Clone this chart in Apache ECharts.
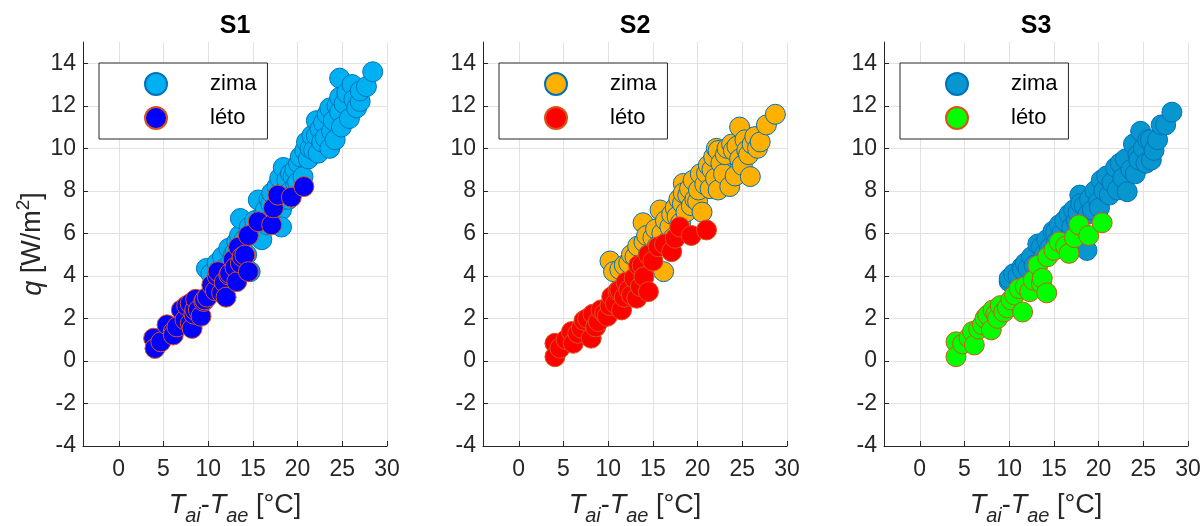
<!DOCTYPE html>
<html>
<head>
<meta charset="utf-8">
<script src="https://cdn.jsdelivr.net/npm/echarts@6/dist/echarts.min.js"></script>
<style>
  html, body { margin: 0; padding: 0; background: #ffffff; }
  #chart { width: 1203px; height: 526px; }
</style>
</head>
<body>
<div id="chart"></div>
<script>
// Panel titles and season names
const panelTitles = ['S1', 'S2', 'S3'];
const seasonNames = ['zima', 'léto'];

// Axis ranges
const xRange = [-4, 30];
const yRange = [-4, 15];
const yTickStep = 2;

// Measured points [Tai - Tae (°C), q (W/m2)]
const s1Zima = [
  [9.8,4.35],[10.3,4.1],[11.0,4.6],[11.3,4.3],[11.6,4.9],[12.0,4.4],[12.3,5.3],[12.5,4.6],[12.8,5.0],[13.0,5.1],
  [13.2,5.6],[13.5,5.9],[13.6,6.7],[14.0,5.7],[14.3,5.0],[14.6,6.3],[14.7,4.2],[15.0,6.1],[15.2,6.6],[15.4,6.0],
  [15.6,7.57],[15.9,6.5],[16.0,5.7],[16.2,6.9],[16.4,7.1],[16.6,6.4],[16.8,7.6],[17.0,7.4],[17.1,7.9],[17.3,6.8],
  [17.6,7.3],[17.7,8.2],[18.0,8.6],[18.2,7.1],[18.2,6.3],[18.4,9.1],[18.5,7.6],[18.6,8.0],[18.8,8.5],[19.0,7.6],
  [19.0,7.9],[19.2,8.8],[19.5,8.67],[19.7,9.0],[19.8,8.3],[20.0,8.4],[20.1,9.3],[20.3,9.6],[20.6,8.67],[20.8,9.9],
  [21.0,10.3],[21.2,9.5],[21.4,10.0],[21.6,10.6],[21.8,9.9],[22.1,11.3],[22.1,10.6],[22.3,9.77],[22.5,10.9],[22.7,10.3],
  [22.9,11.2],[23.1,10.5],[23.3,11.6],[23.6,11.9],[23.6,10.0],[23.8,10.8],[24.0,11.3],[24.2,10.4],[24.4,12.0],[24.7,12.4],
  [24.7,11.7],[24.7,13.3],[24.9,11.0],[25.2,12.1],[25.5,12.6],[25.8,11.4],[26.1,13.0],[26.3,12.3],[26.6,11.9],[27.0,12.2],
  [27.0,12.7],[27.7,12.9],[28.4,13.6]
];
const s1Leto = [
  [3.9,1.07],[4.05,0.59],[4.7,0.9],[5.4,1.7],[6.1,1.38],[6.1,1.22],[6.5,1.6],[7.0,2.4],[7.4,1.93],[7.6,2.6],
  [8.0,2.7],[8.0,1.77],[8.2,1.53],[8.4,2.2],[8.5,2.4],[8.6,2.9],[8.9,2.4],[9.2,2.1],[9.5,2.8],[9.6,2.87],
  [9.9,3.0],[10.4,3.57],[10.8,3.3],[11.0,4.0],[11.1,4.2],[11.5,3.2],[11.8,3.7],[12.0,3.0],[12.3,4.04],[12.4,4.12],
  [12.8,4.75],[13.0,4.4],[13.2,3.73],[13.4,5.35],[13.6,4.6],[13.8,4.9],[14.1,4.98],[14.5,4.2],[14.5,5.9],[15.6,6.55],
  [17.1,6.4],[17.3,7.2],[17.8,7.8],[19.3,7.7],[20.7,8.2]
];
const s2Zima = [
  [10.2,4.7],[10.6,4.2],[11.3,4.3],[11.8,4.5],[12.3,4.6],[12.6,5.0],[13.0,4.9],[13.3,5.4],[13.5,4.4],[13.9,6.5],
  [14.0,5.6],[14.3,5.9],[14.5,5.0],[14.8,4.7],[15.0,5.8],[15.3,6.2],[15.5,5.4],[15.8,7.1],[16.0,6.0],[16.2,4.2],
  [16.4,6.6],[16.6,5.6],[16.9,6.3],[17.1,6.9],[17.3,5.8],[17.5,7.2],[17.7,6.8],[17.9,7.6],[18.1,6.5],[18.3,7.4],
  [18.4,8.35],[18.4,7.9],[18.7,7.0],[18.9,7.8],[19.1,8.1],[19.3,7.3],[19.5,8.5],[19.7,7.6],[20.0,7.5],[20.1,8.04],
  [20.3,8.8],[20.5,7.0],[20.8,8.3],[21.0,8.83],[21.2,9.2],[21.4,8.1],[21.6,9.0],[21.8,9.6],[22.0,8.6],[22.1,10.0],
  [22.3,9.9],[22.3,8.04],[22.6,9.3],[22.9,8.8],[23.1,9.7],[23.3,10.0],[23.6,8.2],[23.8,10.2],[24.0,9.9],[24.2,8.7],
  [24.4,10.1],[24.7,9.5],[24.7,11.0],[25.0,9.2],[25.3,10.4],[25.5,9.9],[25.7,9.7],[25.9,8.67],[26.1,10.2],[26.4,10.55],
  [26.7,10.0],[27.0,10.3],[27.7,11.1],[28.7,11.6]
];
const s2Leto = [
  [4.05,0.83],[4.05,0.2],[4.6,0.6],[5.3,1.0],[5.9,1.38],[6.1,0.83],[6.6,1.3],[7.0,1.54],[7.3,1.9],[7.7,2.0],
  [8.1,1.07],[8.3,2.2],[8.6,1.6],[8.9,1.85],[9.2,2.4],[9.6,2.24],[9.9,2.1],[10.2,2.6],[10.4,3.02],[10.8,2.7],
  [11.1,3.3],[11.3,3.34],[11.5,2.4],[11.8,3.0],[12.0,3.7],[12.3,3.34],[12.6,3.1],[12.9,3.9],[13.2,2.95],[13.4,4.5],
  [13.6,3.5],[13.8,4.5],[14.0,3.96],[14.5,3.26],[14.5,4.98],[15.0,4.7],[15.6,5.37],[16.3,5.5],[17.1,5.14],[17.5,5.77],
  [18.0,6.3],[19.3,5.9],[21.0,6.16]
];
const s3Zima = [
  [10.0,3.73],[10.0,3.88],[10.5,4.1],[11.0,4.0],[11.4,4.4],[11.5,4.3],[11.8,4.6],[12.1,4.36],[12.5,4.9],[12.8,4.5],
  [13.2,5.5],[13.6,5.37],[13.9,5.0],[14.2,5.7],[14.5,5.3],[14.9,6.1],[15.2,6.08],[15.3,5.6],[15.6,6.4],[15.9,6.0],
  [16.2,6.6],[16.4,5.7],[16.7,6.9],[17.0,6.3],[17.2,7.1],[17.5,6.6],[17.7,7.0],[17.9,7.8],[18.0,7.4],[18.4,7.3],
  [18.7,5.2],[18.8,6.9],[19.0,7.6],[19.3,7.1],[19.6,8.0],[20.0,7.5],[20.1,7.2],[20.3,8.5],[20.6,8.0],[20.9,8.7],
  [21.2,7.8],[21.5,8.4],[21.9,9.1],[22.1,8.04],[22.4,9.3],[22.7,8.6],[23.0,9.5],[23.2,7.96],[23.6,9.0],[23.9,10.2],
  [24.1,8.8],[24.4,9.7],[24.5,9.45],[24.7,10.8],[25.0,10.0],[25.3,9.3],[25.5,10.4],[25.8,10.4],[25.9,9.45],[26.2,9.9],
  [26.6,10.4],[27.0,11.1],[27.5,11.1],[28.2,11.7]
];
const s3Leto = [
  [4.05,0.9],[4.05,0.2],[4.8,0.8],[5.5,1.1],[5.9,1.38],[6.1,0.75],[6.6,1.5],[7.0,1.7],[7.3,2.0],[7.6,2.16],
  [8.0,1.46],[8.2,2.4],[8.5,2.2],[8.7,2.0],[9.0,2.6],[9.4,2.3],[9.8,2.5],[10.2,2.87],[10.6,3.1],[11.1,3.4],
  [11.5,2.3],[11.8,3.5],[12.3,3.26],[12.7,3.8],[13.2,4.5],[13.6,3.65],[13.7,3.89],[14.2,3.2],[14.3,4.9],[15.0,5.2],
  [15.6,5.6],[16.3,5.4],[16.7,5.06],[17.3,5.8],[17.8,6.4],[18.9,5.9],[20.4,6.5]
];

const panelData = [[s1Zima, s1Leto], [s2Zima, s2Leto], [s3Zima, s3Leto]];

// Marker styles per panel: [zima, léto]
const fillColors = [['#00b0f0', '#0000ff'], ['#ffb000', '#ff0000'], ['#0896cf', '#00ff00']];
const edgeColors = [['#0072bd', '#d95319'], ['#0072bd', '#d95319'], ['#0072bd', '#d95319']];

const FONT = "'Liberation Sans', Arial, Helvetica, sans-serif";
const AXIS_COLOR = '#262626';
const GRID_COLOR = '#e2e2e2';

const gridLefts = [83, 483, 884];
const gridWidth = 304;
const gridTop = 42;
const gridHeight = 404;

const chart = echarts.init(document.getElementById('chart'), null, { renderer: 'canvas' });

const grids = gridLefts.map(l => ({
  left: l, top: gridTop, width: gridWidth, height: gridHeight,
  outerBoundsMode: 'none', containLabel: false
}));

const xAxes = gridLefts.map((_, i) => ({
  gridIndex: i, type: 'value', min: xRange[0], max: xRange[1], splitNumber: 7,
  axisLine: { show: true, onZero: false, lineStyle: { color: AXIS_COLOR, width: 1 } },
  axisTick: { show: true, inside: true, length: 5, lineStyle: { color: AXIS_COLOR } },
  axisLabel: { fontSize: 23, color: AXIS_COLOR, fontFamily: FONT, margin: 12, showMinLabel: false },
  splitLine: { show: true, showMinLine: false, showMaxLine: true, lineStyle: { color: GRID_COLOR, width: 1 } },
  name: '{i|T}{s|ai}{n|-}{i|T}{s|ae}{n| [°C]}',
  nameLocation: 'middle', nameGap: 46,
  nameTextStyle: {
    color: AXIS_COLOR, fontFamily: FONT, fontSize: 27,
    rich: {
      i: { fontStyle: 'italic', fontSize: 27, lineHeight: 28, verticalAlign: 'top', fontFamily: FONT, color: AXIS_COLOR },
      n: { fontSize: 27, lineHeight: 28, verticalAlign: 'top', fontFamily: FONT, color: AXIS_COLOR },
      s: { fontStyle: 'italic', fontSize: 20, lineHeight: 20, padding: [14, 0, 0, 0], verticalAlign: 'top', fontFamily: FONT, color: AXIS_COLOR }
    }
  }
}));

const yAxes = gridLefts.map((_, i) => ({
  gridIndex: i, type: 'value', min: yRange[0], max: yRange[1], interval: yTickStep,
  axisLine: { show: true, onZero: false, lineStyle: { color: AXIS_COLOR, width: 1 } },
  axisTick: { show: true, inside: true, length: 5, lineStyle: { color: AXIS_COLOR } },
  axisLabel: { fontSize: 23, color: AXIS_COLOR, fontFamily: FONT, margin: 7, showMaxLabel: false },
  splitLine: { show: true, showMinLine: false, showMaxLine: false, lineStyle: { color: GRID_COLOR, width: 1 } },
  name: i === 0 ? '{i|q}{n| [W/m}{p|2}{n|]}' : '',
  nameLocation: 'middle', nameGap: 32,
  nameTextStyle: {
    color: AXIS_COLOR, fontFamily: FONT, fontSize: 27,
    rich: {
      i: { fontStyle: 'italic', fontSize: 27, lineHeight: 28, verticalAlign: 'bottom', fontFamily: FONT, color: AXIS_COLOR },
      n: { fontSize: 27, lineHeight: 28, verticalAlign: 'bottom', fontFamily: FONT, color: AXIS_COLOR },
      p: { fontSize: 19, lineHeight: 19, padding: [0, 0, 13, 0], verticalAlign: 'bottom', fontFamily: FONT, color: AXIS_COLOR }
    }
  }
}));

const series = [];
panelTitles.forEach((p, i) => {
  seasonNames.forEach((s, k) => {
    series.push({
      type: 'scatter', name: p + ' ' + s,
      xAxisIndex: i, yAxisIndex: i,
      data: panelData[i][k],
      symbol: 'circle', symbolSize: 20,
      itemStyle: { color: fillColors[i][k], borderColor: edgeColors[i][k], borderWidth: 1, opacity: 1 },
      emphasis: { disabled: true },
      animation: false, z: 2 + k
    });
  });
});

const legends = panelTitles.map((p, i) => ({
  data: seasonNames.map(s => p + ' ' + s),
  orient: 'vertical', left: gridLefts[i] + 16, top: 63,
  padding: [9, 11, 9, 45], itemGap: 10, itemWidth: 22, itemHeight: 22,
  backgroundColor: '#ffffff', borderColor: AXIS_COLOR, borderWidth: 1, borderRadius: 0,
  icon: 'circle', selectedMode: false,
  formatter: n => n.split(' ')[1],
  textStyle: { fontSize: 22, color: '#000000', fontFamily: FONT, padding: [0, 0, 0, 38] }
}));

const titles = panelTitles.map((p, i) => ({
  type: 'text', x: gridLefts[i] + gridWidth / 2, y: 26,
  style: {
    text: p, fontSize: 25, fontWeight: 'bold', fontFamily: FONT, fill: '#000000',
    textAlign: 'center', textVerticalAlign: 'middle', align: 'center', verticalAlign: 'middle'
  }
}));

chart.setOption({
  animation: false,
  backgroundColor: '#ffffff',
  grid: grids,
  xAxis: xAxes,
  yAxis: yAxes,
  legend: legends,
  graphic: titles,
  series: series
});
</script>
</body>
</html>
